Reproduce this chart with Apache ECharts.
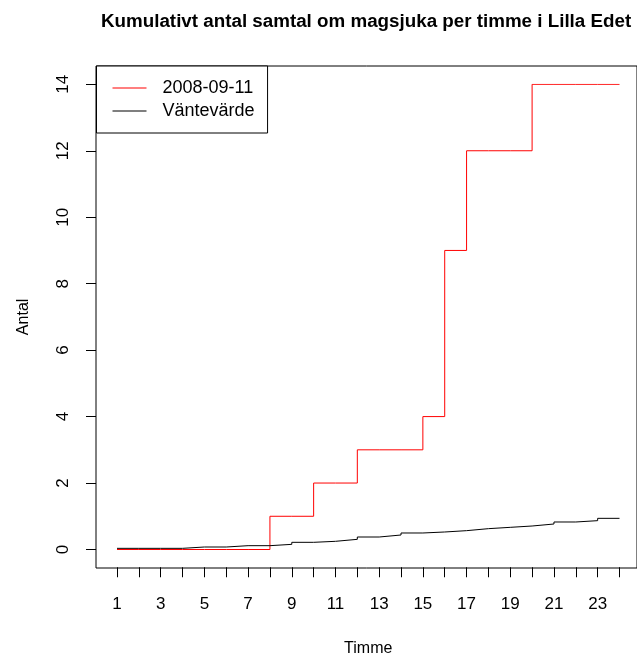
<!DOCTYPE html>
<html>
<head>
<meta charset="utf-8">
<script src="https://cdn.jsdelivr.net/npm/echarts@6/dist/echarts.min.js"></script>
<style>html,body{margin:0;padding:0;background:#fff}#c{width:637px;height:654px}</style>
</head>
<body>
<div id="c"></div>
<script>
var hours = [1,2,3,4,5,6,7,8,9,10,11,12,13,14,15,16,17,18,19,20,21,22,23,24];
var observed = [0,0,0,0,0,0,0,1,1,2,2,3,3,3,4,9,12,12,12,14,14,14,14,14];
var expected = [0.035,0.035,0.035,0.075,0.075,0.115,0.115,0.155,0.216,0.246,0.306,0.376,0.436,0.497,0.527,0.567,0.627,0.667,0.707,0.767,0.828,0.868,0.938,0.938];
var yTicks = [0,2,4,6,8,10,12,14];
var seriesNames = ['2008-09-11','Väntevärde'];
var titleText = 'Kumulativt antal samtal om magsjuka per timme i Lilla Edet';

var FONT = 'Liberation Sans, Arial, Helvetica, sans-serif';
var chart = echarts.init(document.getElementById('c'), null, {renderer:'canvas'});
function pairs(ys){ return hours.map(function(h,i){ return [h, ys[i]]; }); }

var xMin = hours[0], xMax = hours[hours.length-1];
var yMin = yTicks[0], yMax = yTicks[yTicks.length-1];

chart.setOption({
  animation:false,
  backgroundColor:'#fff',
  title:{ text:titleText, left:101, top:12.5, padding:0,
    textStyle:{ fontFamily:FONT, fontSize:18.8, fontWeight:'bold', color:'#000' } },
  legend:{
    orient:'vertical', left:96.5, top:66,
    padding:[13,13,13,16], itemGap:5, itemWidth:34, itemHeight:14,
    icon:'path://M0,0H34V1H0Z',
    borderColor:'#000', borderWidth:1, backgroundColor:'#fff',
    textStyle:{ fontFamily:FONT, fontSize:18, color:'#000', padding:[0,0,0,11] },
    data:seriesNames
  },
  grid:[
    { left:117, top:84.3, width:502.5, height:465.2 },
    { left:96, top:66, width:544, height:502, show:true, borderColor:'#000', borderWidth:1, backgroundColor:'transparent' },
    { left:117, top:567, width:502.5, height:1 },
    { left:96, top:84.3, width:1, height:465.2 }
  ],
  xAxis:[
    { type:'value', gridIndex:0, min:xMin, max:xMax, show:false },
    { type:'value', gridIndex:1, min:0, max:1, show:false },
    { type:'value', gridIndex:2, min:xMin, max:xMax, interval:1, position:'bottom',
      axisLine:{show:false},
      axisTick:{show:true, inside:false, length:10, lineStyle:{color:'#000', width:1}},
      axisLabel:{ margin:29, fontFamily:FONT, fontSize:17, color:'#000',
        formatter:function(v){ return (v % 2 === 1) ? String(v) : ''; } },
      splitLine:{show:false},
      name:'Timme', nameLocation:'middle', nameGap:73,
      nameTextStyle:{ fontFamily:FONT, fontSize:16, color:'#000' } },
    { type:'value', gridIndex:3, min:0, max:1, show:false }
  ],
  yAxis:[
    { type:'value', gridIndex:0, min:yMin, max:yMax, show:false },
    { type:'value', gridIndex:1, min:0, max:1, show:false },
    { type:'value', gridIndex:2, min:0, max:1, show:false },
    { type:'value', gridIndex:3, min:yMin, max:yMax, interval:2, position:'left',
      axisLine:{show:false},
      axisTick:{show:true, inside:false, length:10, lineStyle:{color:'#000', width:1}},
      axisLabel:{ rotate:90, margin:24, fontFamily:FONT, fontSize:17, color:'#000',
        formatter:function(v){ return yTicks.indexOf(v) >= 0 ? String(v) : ''; } },
      splitLine:{show:false},
      name:'Antal', nameLocation:'middle', nameGap:64, nameRotate:90,
      nameTextStyle:{ fontFamily:FONT, fontSize:16, color:'#000' } }
  ],
  series:[
    { name:seriesNames[0], type:'line', xAxisIndex:0, yAxisIndex:0, step:'end', symbol:'none',
      lineStyle:{ color:'#ff0000', width:1 }, itemStyle:{ color:'#ff0000' }, data:pairs(observed), z:3 },
    { name:seriesNames[1], type:'line', xAxisIndex:0, yAxisIndex:0, step:'end', symbol:'none',
      lineStyle:{ color:'#000000', width:1 }, itemStyle:{ color:'#000000' }, data:pairs(expected), z:4 }
  ]
});
</script>
</body>
</html>
